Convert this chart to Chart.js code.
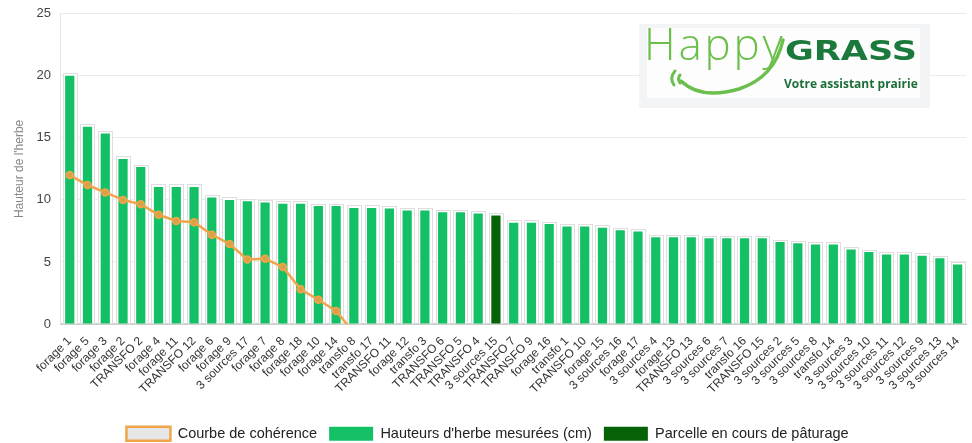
<!DOCTYPE html>
<html>
<head>
<meta charset="utf-8">
<script src="https://cdn.jsdelivr.net/npm/chart.js@4.4.1/dist/chart.umd.min.js"></script>
<style>
  html, body { margin: 0; padding: 0; background: #fff; overflow: hidden; }
  #wrap { position: relative; top: -4px; width: 972px; height: 455px; }
  #logo { position: absolute; left: 639px; top: 28px; width: 291px; height: 84px;
          background: rgba(240, 242, 245, 0.85); }
  #logo .inner { position: absolute; left: 8px; top: 4px; width: 273px; height: 70px; background: rgba(255,255,255,0.9); }
  #logo span { position: absolute; white-space: nowrap; line-height: 1; }
  #happy { left: 5px; top: -3px; font-family: "Open Sans", sans-serif; font-weight: 300; font-size: 44px; color: #6cbf4c; letter-spacing: 2.8px; }
  #grass { left: 146px; top: 13px; font-family: "DejaVu Sans", sans-serif; font-weight: 700; font-size: 27px; color: #1b7a3b;
           transform: scaleX(1.3); transform-origin: left top; }
  #tag { left: 145px; top: 54px; font-family: "Open Sans", sans-serif; font-weight: 700; font-size: 12px; color: #1d6d37; }
  #logo svg { position: absolute; left: 0; top: 0; }
</style>
</head>
<body>
<div id="wrap">
  <canvas id="chart"></canvas>
  <div id="logo">
    <div class="inner"></div>
    <svg width="291" height="84">
      <path d="M 42 57 Q 62 76 100 65 Q 136 53 144 16" fill="none" stroke="#6cbf4c" stroke-width="3.5" stroke-linecap="round"/>
      <path d="M 36 47 Q 30 54 35 61" fill="none" stroke="#6cbf4c" stroke-width="3" stroke-linecap="round"/>
      <path d="M 41 51 Q 38 55 41 59" fill="none" stroke="#6cbf4c" stroke-width="3" stroke-linecap="round"/>
    </svg>
    <span id="happy">Happy</span>
    <span id="grass">GRASS</span>
    <span id="tag">Votre assistant prairie</span>
  </div>
</div>
<script>
// Parcelles, triées par hauteur d'herbe
const parcelles = [
    'forage 1', 'forage 5', 'forage 3', 'forage 2', 'TRANSFO 2', 'forage 4', 'forage 11', 'TRANSFO 12',
    'forage 6', 'forage 9', '3 sources 17', 'forage 7', 'forage 8', 'forage 18', 'forage 10', 'forage 14',
    'transfo 8', 'transfo 17', 'TRANSFO 11', 'forage 12', 'transfo 3', 'TRANSFO 6', 'TRANSFO 5', 'TRANSFO 4',
    '3 sources 15', 'TRANSFO 7', 'TRANSFO 9', 'forage 16', 'transfo 1', 'TRANSFO 10', 'forage 15', '3 sources 16',
    'forage 17', '3 sources 4', 'forage 13', 'TRANSFO 13', '3 sources 6', '3 sources 7', 'transfo 16', 'TRANSFO 15',
    '3 sources 2', '3 sources 5', '3 sources 8', 'transfo 14', '3 sources 3', '3 sources 10', '3 sources 11',
    '3 sources 12', '3 sources 9', '3 sources 13', '3 sources 14'
];

// Hauteurs d'herbe mesurées (cm)
const hauteurs = [
    20.0, 15.9, 15.35, 13.3, 12.65, 11.05, 11.05, 11.05,
    10.2, 10.0, 9.9, 9.8, 9.7, 9.7, 9.5, 9.5,
    9.35, 9.35, 9.3, 9.15, 9.15, 9.0, 9.0, 8.9,
    8.75, 8.15, 8.15, 8.05, 7.85, 7.85, 7.75, 7.55,
    7.45, 7.0, 7.0, 7.0, 6.9, 6.9, 6.9, 6.9,
    6.6, 6.5, 6.4, 6.4, 6.0, 5.8, 5.6,
    5.6, 5.5, 5.3, 4.8
];

// Parcelle en cours de pâturage
const parcelleEnCours = '3 sources 15';

// Courbe de cohérence (un point par parcelle, puis plus rien)
const coherence = [
    12.0, 11.2, 10.6, 10.0, 9.65, 8.8, 8.3, 8.2,
    7.2, 6.45, 5.2, 5.25, 4.6, 2.8, 1.95, 1.05,
    -0.7
];

const yTicks = [0, 5, 10, 15, 20, 25];

// Split the measured heights between the two bar datasets
const hauteursNormales = hauteurs.map((v, i) => parcelles[i] === parcelleEnCours ? null : v);
const hauteursEnCours = hauteurs.map((v, i) => parcelles[i] === parcelleEnCours ? v : null);
const coherenceData = parcelles.map((p, i) => i < coherence.length ? coherence[i] : null);

// Light frame drawn behind each bar
const barFrame = {
    id: 'barFrame',
    beforeDatasetsDraw(chart) {
        const ctx = chart.ctx;
        ctx.save();
        chart.data.datasets.forEach((ds, i) => {
            if (ds.type !== 'bar') return;
            const meta = chart.getDatasetMeta(i);
            meta.data.forEach((bar, j) => {
                if (ds.data[j] == null) return;
                const p = bar.getProps(['x', 'y', 'base', 'width'], true);
                ctx.fillStyle = '#ffffff';
                ctx.strokeStyle = '#dedede';
                ctx.lineWidth = 1;
                const left = Math.round(p.x - p.width / 2 - 2.5) + 0.5;
                const top = Math.round(p.y - 2.5) + 0.5;
                const w = Math.round(p.width + 5);
                ctx.fillRect(left, top, w, p.base - top);
                ctx.strokeRect(left, top, w, p.base - top);
            });
        });
        ctx.restore();
    }
};

Chart.defaults.font.family = '"Liberation Sans", Arial, sans-serif';

const ctx = document.getElementById('chart').getContext('2d');
new Chart(ctx, {
    type: 'bar',
    data: {
        labels: parcelles,
        datasets: [
            {
                type: 'line',
                label: 'Courbe de cohérence',
                data: coherenceData,
                borderColor: '#f2a449',
                backgroundColor: '#e6e6e6',
                borderWidth: 2.5,
                pointRadius: 3.5,
                pointBorderWidth: 1.5,
                pointBackgroundColor: '#d9a24a',
                pointBorderColor: '#f2a449',
                tension: 0,
                order: 0
            },
            {
                type: 'bar',
                label: "Hauteurs d'herbe mesurées (cm)",
                data: hauteursNormales,
                backgroundColor: '#13c066',
                grouped: false,
                barPercentage: 0.52,
                categoryPercentage: 1,
                order: 1
            },
            {
                type: 'bar',
                label: 'Parcelle en cours de pâturage',
                data: hauteursEnCours,
                backgroundColor: '#066206',
                grouped: false,
                barPercentage: 0.52,
                categoryPercentage: 1,
                order: 1
            }
        ]
    },
    options: {
        responsive: true,
        maintainAspectRatio: false,
        animation: false,
        layout: {
            padding: { top: 2, right: 5, left: 8, bottom: 0 }
        },
        scales: {
            x: {
                grid: { display: false },
                border: { color: '#cfcfcf', width: 2 },
                ticks: {
                    autoSkip: false,
                    minRotation: 45,
                    maxRotation: 45,
                    color: '#333',
                    font: { size: 12 },
                    padding: 2
                },
                afterFit(axis) {
                    axis.height += 16; // keep space between the labels and the legend
                }
            },
            y: {
                min: 0,
                max: 25,
                afterBuildTicks(axis) {
                    axis.ticks = yTicks.map(v => ({ value: v }));
                },
                grid: { color: '#ebebeb', drawTicks: false },
                border: { color: '#e4e4e4' },
                title: {
                    display: true,
                    text: "Hauteur de l'herbe",
                    color: '#888',
                    font: { size: 12 },
                    padding: { top: 4, bottom: 0 }
                },
                ticks: {
                    color: '#444',
                    font: { size: 13 },
                    padding: 10
                }
            }
        },
        plugins: {
            legend: {
                position: 'bottom',
                labels: {
                    boxWidth: 44,
                    boxHeight: 14,
                    color: '#222',
                    font: { size: 14.5 },
                    padding: 12
                }
            },
            tooltip: { enabled: false }
        }
    },
    plugins: [barFrame]
});
</script>
</body>
</html>
